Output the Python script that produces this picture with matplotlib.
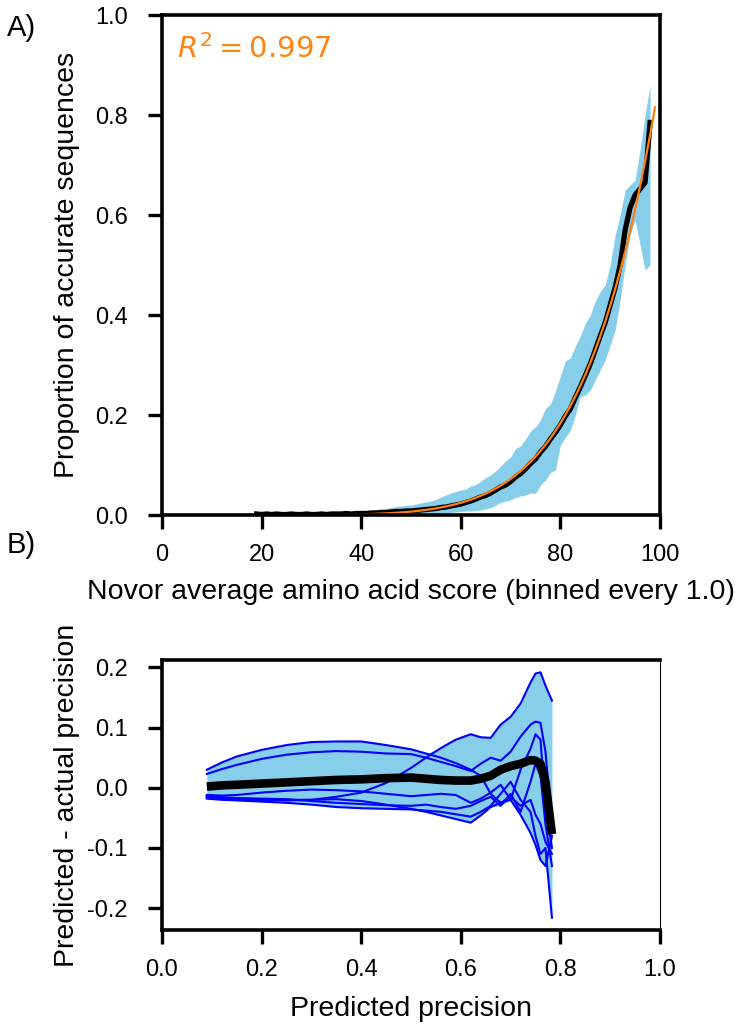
import numpy as np
import matplotlib
matplotlib.use("Agg")
import matplotlib.pyplot as plt

plt.rcParams['font.family'] = ['Liberation Sans', 'DejaVu Sans']
plt.rcParams['axes.unicode_minus'] = False
plt.rcParams['mathtext.fontset'] = 'dejavusans'

# ---------------- Panel A data ----------------
score_bins = list(range(19, 99))
mean_acc = [
    0.002, 0.001, 0.002, 0.001, 0.002, 0.001, 0.001, 0.002, 0.001, 0.001,
    0.002, 0.001, 0.001, 0.002, 0.001, 0.002, 0.002, 0.002, 0.003, 0.002,
    0.003, 0.003, 0.003, 0.004, 0.004, 0.005, 0.005, 0.006, 0.007, 0.007,
    0.008, 0.008, 0.009, 0.010, 0.011, 0.012, 0.013, 0.015, 0.016, 0.018,
    0.020, 0.022, 0.025, 0.028, 0.032, 0.036, 0.039, 0.044, 0.050, 0.056,
    0.060, 0.067, 0.076, 0.083, 0.092, 0.103, 0.112, 0.126, 0.137, 0.152,
    0.165, 0.180, 0.198, 0.212, 0.235, 0.256, 0.279, 0.302, 0.330, 0.358,
    0.385, 0.420, 0.455, 0.500, 0.570, 0.615, 0.640, 0.652, 0.665, 0.785]
upper_acc = [
    0.004, 0.003, 0.004, 0.003, 0.004, 0.003, 0.003, 0.004, 0.004, 0.003,
    0.004, 0.004, 0.003, 0.005, 0.004, 0.005, 0.005, 0.006, 0.007, 0.006,
    0.008, 0.007, 0.009, 0.010, 0.011, 0.012, 0.013, 0.015, 0.017, 0.018,
    0.019, 0.020, 0.022, 0.024, 0.026, 0.028, 0.031, 0.036, 0.040, 0.044,
    0.047, 0.050, 0.052, 0.058, 0.061, 0.068, 0.075, 0.080, 0.088, 0.098,
    0.108, 0.116, 0.133, 0.138, 0.152, 0.168, 0.176, 0.190, 0.213, 0.222,
    0.248, 0.278, 0.308, 0.314, 0.338, 0.358, 0.383, 0.400, 0.428, 0.447,
    0.460, 0.500, 0.560, 0.600, 0.650, 0.660, 0.670, 0.730, 0.800, 0.860]
lower_acc = [
    0.000, 0.000, 0.000, 0.000, 0.000, 0.000, 0.000, 0.000, 0.000, 0.000,
    0.000, 0.000, 0.000, 0.000, 0.000, 0.000, 0.000, 0.000, 0.000, 0.000,
    0.000, 0.000, 0.000, 0.000, 0.000, 0.000, 0.000, 0.000, 0.001, 0.001,
    0.001, 0.001, 0.002, 0.002, 0.003, 0.003, 0.003, 0.004, 0.004, 0.005,
    0.006, 0.007, 0.008, 0.008, 0.009, 0.010, 0.012, 0.015, 0.020, 0.025,
    0.028, 0.030, 0.035, 0.038, 0.040, 0.044, 0.043, 0.060, 0.070, 0.085,
    0.090, 0.140, 0.155, 0.170, 0.200, 0.237, 0.240, 0.250, 0.270, 0.290,
    0.310, 0.340, 0.370, 0.430, 0.500, 0.560, 0.590, 0.540, 0.490, 0.500]

# power-law fit parameters (y = A * (x/100)^N)
FIT_A = 0.875
FIT_N = 7.0
FIT_R2 = 0.997

# ---------------- Panel B data ----------------
pred_prec = [0.09, 0.12, 0.15, 0.20, 0.25, 0.30, 0.35, 0.40, 0.45, 0.50, 0.53, 0.56,
             0.59, 0.62, 0.64, 0.66, 0.68, 0.70, 0.72, 0.74, 0.75, 0.76, 0.77, 0.783]
fold1 = [0.030, 0.042, 0.052, 0.063, 0.071, 0.076, 0.077, 0.077, 0.071, 0.064, 0.057, 0.050,
         0.041, 0.030, 0.020, -0.010, -0.025, -0.015, -0.030, -0.020, -0.045, -0.060, -0.090, -0.110]
fold2 = [0.023, 0.031, 0.038, 0.048, 0.055, 0.059, 0.061, 0.060, 0.057, 0.056, 0.050, 0.043,
         0.036, 0.028, 0.040, 0.050, 0.045, 0.060, 0.085, 0.105, 0.110, 0.108, 0.060, -0.060]
fold3 = [-0.014, -0.016, -0.018, -0.020, -0.021, -0.020, -0.015, -0.008, 0.008, 0.033, 0.050, 0.066,
         0.080, 0.089, 0.084, 0.083, 0.105, 0.118, 0.140, 0.175, 0.190, 0.192, 0.170, 0.145]
fold4 = [-0.012, -0.013, -0.012, -0.008, -0.005, -0.003, -0.004, -0.006, -0.010, -0.014, -0.012, -0.010,
         -0.012, -0.025, -0.018, -0.008, 0.005, -0.020, 0.030, 0.065, 0.089, 0.080, -0.030, -0.100]
fold5 = [-0.015, -0.016, -0.017, -0.018, -0.019, -0.022, -0.025, -0.027, -0.029, -0.030, -0.028, -0.032,
         -0.035, -0.030, -0.022, -0.015, -0.030, -0.010, -0.040, 0.010, 0.040, 0.020, -0.060, -0.130]
fold6 = [-0.017, -0.018, -0.019, -0.020, -0.020, -0.020, -0.019, -0.022, -0.028, -0.035, -0.040, -0.046,
         -0.052, -0.058, -0.046, -0.032, -0.025, -0.020, -0.045, -0.075, -0.095, -0.120, -0.130, -0.080]
fold7 = [-0.018, -0.020, -0.021, -0.023, -0.025, -0.028, -0.032, -0.034, -0.035, -0.036, -0.038, -0.040,
         -0.044, -0.048, -0.040, -0.030, -0.010, 0.010, -0.020, -0.040, -0.080, -0.110, -0.100, -0.216]
mean_diff = [0.002, 0.004, 0.005, 0.007, 0.009, 0.011, 0.013, 0.014, 0.016, 0.017, 0.015, 0.013,
             0.012, 0.012, 0.015, 0.020, 0.030, 0.036, 0.040, 0.046, 0.045, 0.040, 0.010, -0.077]

FS_TICK = 17
FS_LABEL = 20.5
SKY = '#87ceeb'

fig = plt.figure(figsize=(7.47, 10.29), dpi=100)
ax1 = fig.add_axes([162 / 747, 1 - 515 / 1029, 498 / 747, 500 / 1029])
ax2 = fig.add_axes([162 / 747, 1 - 930 / 1029, 498 / 747, 270 / 1029])

# Panel A
ax1.fill_between(score_bins, lower_acc, upper_acc, color=SKY, lw=0)
ax1.plot(score_bins, mean_acc, color='black', lw=3.8)
fit_x = np.arange(0, 100, 1.0)
fit_y = FIT_A * (fit_x / 100.0) ** FIT_N
ax1.plot(fit_x, fit_y, color='#ff7f0e', lw=1.6)
ax1.set_xlim(0, 100)
ax1.set_ylim(0, 1)
ax1.set_xticks([0, 20, 40, 60, 80, 100])
ax1.set_yticks([0.0, 0.2, 0.4, 0.6, 0.8, 1.0])
ax1.set_yticklabels(['0.0', '0.2', '0.4', '0.6', '0.8', '1.0'])
ax1.set_xlabel('Novor average amino acid score (binned every 1.0)', fontsize=FS_LABEL)
ax1.set_ylabel('Proportion of accurate sequences', fontsize=FS_LABEL)
ax1.text(0.03, 0.962, r'$R^2 = %.3f$' % FIT_R2, transform=ax1.transAxes,
         color='#ff8412', fontsize=21, va='top', ha='left')

# Panel B
folds = [fold1, fold2, fold3, fold4, fold5, fold6, fold7]
arr = np.array(folds)
ax2.fill_between(pred_prec, arr.min(axis=0), arr.max(axis=0), color=SKY, lw=0)
for f in folds:
    ax2.plot(pred_prec, f, color='blue', lw=1.5)
ax2.plot(pred_prec, mean_diff, color='black', lw=6.2, solid_capstyle='butt')
ax2.set_xlim(0, 1)
ax2.set_xticks([0.0, 0.2, 0.4, 0.6, 0.8, 1.0])
ax2.set_yticks([-0.2, -0.1, 0.0, 0.1, 0.2])
ax2.set_xlabel('Predicted precision', fontsize=FS_LABEL)
ax2.set_ylabel('Predicted - actual precision', fontsize=FS_LABEL)

for ax in (ax1, ax2):
    for s in ax.spines.values():
        s.set_linewidth(2.6)
    ax.tick_params(direction='out', length=10, width=2.4, labelsize=FS_TICK)
    ax.tick_params(axis='x', pad=11)
    ax.tick_params(axis='y', pad=14.5)
    ax.yaxis.set_label_coords(-0.165, 0.5)
ax2.spines['right'].set_linewidth(0.8)
ax1.xaxis.labelpad = 9
ax2.xaxis.labelpad = 11

fig.text(7 / 747, 1 - 28 / 1029, 'A)', fontsize=21, va='center', ha='left')
fig.text(7 / 747, 1 - 545 / 1029, 'B)', fontsize=21, va='center', ha='left')

fig.savefig('out.png', dpi=100)
